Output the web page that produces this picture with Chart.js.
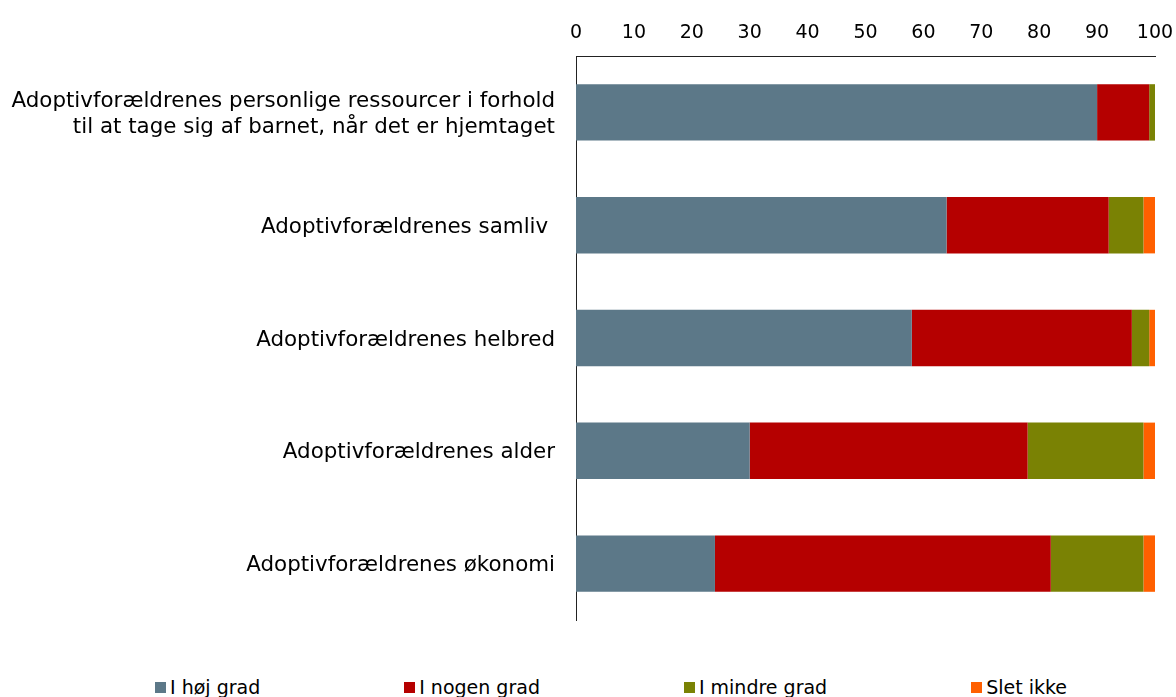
<!DOCTYPE html>
<html>
<head>
<meta charset="utf-8">
<script src="https://cdn.jsdelivr.net/npm/chart.js@4"></script>
<style>
  html, body { margin: 0; padding: 0; background: #fff; overflow: hidden; }
  #wrap { position: relative; width: 1176px; height: 697px; }
  #box { position: absolute; left: 0; top: 0; width: 1176px; height: 640px; }
  #legend {
    position: absolute; left: 155px; top: 676px;
    display: flex; gap: 144px;
    font-family: "DejaVu Sans", Verdana, sans-serif; font-size: 19px; color: #000;
    white-space: nowrap; line-height: 22px;
  }
  #legend .item { display: flex; align-items: center; }
  #legend .sw { width: 11px; height: 11px; margin-right: 4px; display: inline-block; }
</style>
</head>
<body>
<div id="wrap">
  <div id="box"><canvas id="c"></canvas></div>
  <div id="legend"></div>
</div>
<script>
const categories = [
  ["Adoptivforældrenes personlige ressourcer i forhold", "til at tage sig af barnet, når det er hjemtaget"],
  "Adoptivforældrenes samliv ",
  "Adoptivforældrenes helbred",
  "Adoptivforældrenes alder",
  "Adoptivforældrenes økonomi"
];
const seriesNames = ["I høj grad", "I nogen grad", "I mindre grad", "Slet ikke"];
const hojGrad = [90, 64, 58, 30, 24];
const nogenGrad = [9, 28, 38, 48, 58];
const mindreGrad = [1, 6, 3, 20, 16];
const sletIkke = [0, 2, 1, 2, 2];
const xTicks = [0, 10, 20, 30, 40, 50, 60, 70, 80, 90, 100];
const colors = ["#5c7888", "#b50000", "#7a8204", "#ff6000"];

const font = "'DejaVu Sans', Verdana, sans-serif";
const values = [hojGrad, nogenGrad, mindreGrad, sletIkke];

const chart = new Chart(document.getElementById("c"), {
  type: "bar",
  data: {
    labels: categories,
    datasets: values.map((v, i) => ({
      label: seriesNames[i],
      data: v,
      backgroundColor: colors[i],
      borderWidth: 0,
      barPercentage: 0.5,
      categoryPercentage: 1
    }))
  },
  options: {
    indexAxis: "y",
    responsive: true,
    maintainAspectRatio: false,
    animation: false,
    layout: { padding: { left: 0, right: 0, top: 0, bottom: 20 } },
    plugins: { legend: { display: false }, tooltip: { enabled: false } },
    scales: {
      x: {
        position: "top",
        stacked: true,
        min: 0,
        max: 100,
        afterBuildTicks: s => { s.ticks = xTicks.map(v => ({ value: v })); },
        afterFit: s => { s.height = 56; s.paddingLeft = 0; s.paddingRight = 21; },
        grid: { display: false, drawTicks: false },
        border: { display: true, color: "#222", width: 1 },
        ticks: { font: { family: font, size: 19 }, color: "#000", padding: 12, maxRotation: 0 }
      },
      y: {
        stacked: true,
        afterFit: s => { s.width = 576; s.paddingTop = 0; s.paddingBottom = 0; },
        grid: { display: false, drawTicks: false },
        border: { display: true, color: "#222", width: 1 },
        ticks: { font: { family: font, size: 21.4, lineHeight: 1.22 }, color: "#000", padding: 21, labelOffset: 2 }
      }
    }
  }
});

document.getElementById("legend").innerHTML = chart.data.datasets.map(d => `
  <div class="item"><span class="sw" style="background:${d.backgroundColor}"></span>${d.label}</div>
`).join("");
</script>
</body>
</html>
